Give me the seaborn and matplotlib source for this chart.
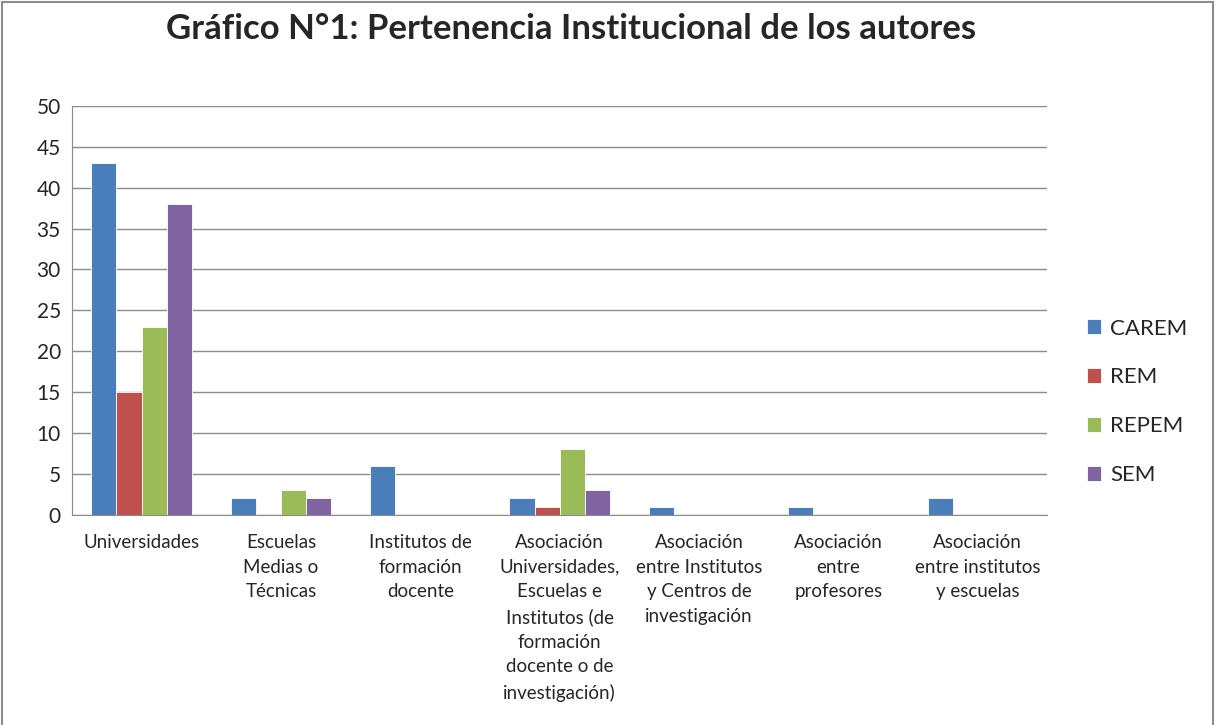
import matplotlib
matplotlib.use("Agg")
import matplotlib.pyplot as plt
import seaborn as sns
import pandas as pd
from matplotlib.patches import Rectangle

categories = [
    "Universidades",
    "Escuelas\nMedias o\nTécnicas",
    "Institutos de\nformación\ndocente",
    "Asociación\nUniversidades,\nEscuelas e\nInstitutos (de\nformación\ndocente o de\ninvestigación)",
    "Asociación\nentre Institutos\ny Centros de\ninvestigación",
    "Asociación\nentre\nprofesores",
    "Asociación\nentre institutos\ny escuelas",
]
carem = [43, 2, 6, 2, 1, 1, 2]
rem = [15, 0, 0, 1, 0, 0, 0]
repem = [23, 3, 0, 8, 0, 0, 0]
sem = [38, 2, 0, 3, 0, 0, 0]
series = ["CAREM", "REM", "REPEM", "SEM"]
colors = ["#4A7EBB", "#C0504D", "#9BBB59", "#8064A2"]

rows = []
for name, vals in zip(series, [carem, rem, repem, sem]):
    for cat, v in zip(categories, vals):
        rows.append({"Categoria": cat, "Serie": name, "Valor": v})
df = pd.DataFrame(rows)

sns.set_style("white")
plt.rcParams["font.family"] = ["Lato", "DejaVu Sans"]

fig = plt.figure(figsize=(12.18, 7.25), dpi=100)
ax = fig.add_axes([0.059, 0.29, 0.801, 0.564])

sns.barplot(data=df, x="Categoria", y="Valor", hue="Serie", palette=colors,
            saturation=1, width=0.72, ax=ax, edgecolor="white", linewidth=0.6)

ax.set_ylim(0, 50)
ax.set_yticks(range(0, 51, 5))
ax.yaxis.grid(True, color="#8c8c8c", linewidth=1)
ax.set_axisbelow(True)
for s in ["top", "right"]:
    ax.spines[s].set_visible(False)
ax.spines["left"].set_color("#8c8c8c")
ax.spines["bottom"].set_color("#8c8c8c")
ax.set_xlabel("")
ax.set_ylabel("")
ax.tick_params(axis="y", labelsize=15, length=0, pad=8)
ax.tick_params(axis="x", labelsize=13.5, length=0, pad=14)
for lbl in ax.get_xticklabels():
    lbl.set_linespacing(1.54)
    lbl.set_va("top")

leg = ax.legend(loc="center left", bbox_to_anchor=(1.02, 0.276), frameon=False,
                fontsize=16, handlelength=0.65, handleheight=0.65,
                labelspacing=1.3, handletextpad=0.4)

fig.suptitle("Gráfico N°1: Pertenencia Institucional de los autores",
             x=0.469, y=0.982, fontsize=25, fontweight="bold")

fig.patches.append(Rectangle((0.002, -0.01), 0.994, 1.007, transform=fig.transFigure,
                             fill=False, edgecolor="#8c8c8c", linewidth=1.5))

fig.savefig("out.png", dpi=100)
